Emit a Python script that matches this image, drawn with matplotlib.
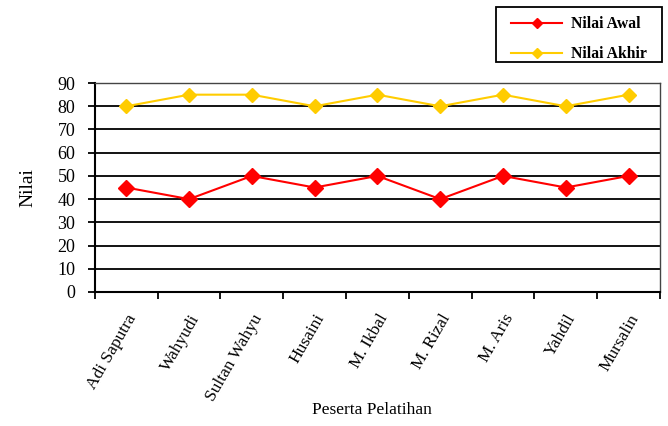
import matplotlib
matplotlib.use("Agg")
import matplotlib.pyplot as plt
import numpy as np
from matplotlib.lines import Line2D
from matplotlib.patches import Rectangle

categories = ["Adi Saputra", "Wahyudi", "Sultan Wahyu", "Husaini", "M. Ikbal",
              "M. Rizal", "M. Aris", "Yahdil", "Mursalin"]
nilai_awal = [45, 40, 50, 45, 50, 40, 50, 45, 50]
nilai_akhir = [80, 85, 85, 80, 85, 80, 85, 80, 85]
yticks = list(range(0, 91, 10))

plt.rcParams['font.family'] = ['Liberation Serif', 'DejaVu Serif']

W, H = 668, 426
fig = plt.figure(figsize=(W / 100, H / 100), dpi=100)
ax = fig.add_axes([0.142, 0.3146, 0.846, 0.4904])

x = np.arange(len(categories))
red = "#FF0000"
yel = "#FFCC00"
ax.plot(x, nilai_awal, color=red, lw=1.5, marker="D", markersize=8.5,
        markerfacecolor=red, markeredgecolor=red, zorder=3)
ax.plot(x, nilai_akhir, color=yel, lw=1.5, marker="D", markersize=7,
        markerfacecolor=yel, markeredgecolor=yel, zorder=3)

ax.set_xlim(-0.5, len(categories) - 0.5)
ax.set_ylim(0, 90)
ax.set_yticks(yticks)
ax.set_yticklabels([str(v) for v in yticks], fontsize=13)
for v in yticks[1:]:
    ax.axhline(v, color="black", lw=1.3, zorder=1)

ax.set_xticks(np.arange(len(categories) + 1) - 0.5)
ax.set_xticklabels([])
ax.set_xticks(x, minor=True)
ax.set_xticklabels(categories, minor=True, rotation=60, ha="right",
                   rotation_mode="anchor", fontsize=12.5)
ax.tick_params(axis="x", which="minor", length=0, pad=14)
ax.tick_params(axis="x", which="major", direction="out", length=5, width=1.3)
ax.tick_params(axis="y", direction="out", length=5, width=1.3, pad=9)

for s in ["left", "bottom"]:
    ax.spines[s].set_linewidth(1.5)
    ax.spines[s].set_color("black")
for s in ["top", "right"]:
    ax.spines[s].set_linewidth(1.0)
    ax.spines[s].set_color("#444444")

ax.set_ylabel("Nilai", fontsize=14)
ax.yaxis.set_label_coords(-0.103, 0.5)
ax.set_xlabel("Peserta Pelatihan", fontsize=12.5)
ax.xaxis.set_label_coords(0.49, -0.525)

handles = [Line2D([], [], color=red, lw=1.5, marker="D", markersize=5),
           Line2D([], [], color=yel, lw=1.5, marker="D", markersize=5)]
leg = fig.legend(handles, ["Nilai Awal", "Nilai Akhir"],
                 loc="upper left", bbox_to_anchor=(511 / W, 1 - 16.5 / H),
                 prop={"weight": "bold", "size": 11.3}, frameon=False,
                 handlelength=3.25, borderpad=0, labelspacing=0.88,
                 handletextpad=0.6, borderaxespad=0)

# legend frame
fig.add_artist(Rectangle((496 / W, 1 - 62 / H), (662 - 496) / W, (62 - 7) / H,
                         transform=fig.transFigure, fill=False,
                         edgecolor="black", lw=1.3))

fig.savefig("out.png", dpi=100)
